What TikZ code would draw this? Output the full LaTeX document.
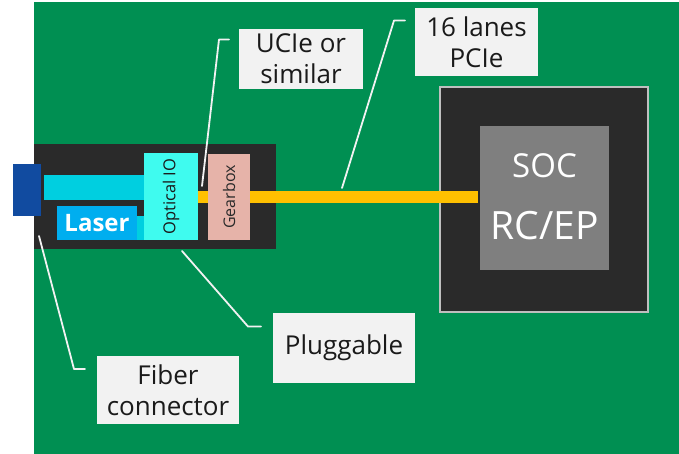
\documentclass[tikz,border=0pt]{standalone}
\usepackage{fontspec}
\setmainfont{Open Sans}
\definecolor{board}{HTML}{008F52}
\definecolor{dark}{HTML}{2A2A2A}
\definecolor{conn}{HTML}{114BA0}
\definecolor{guide}{HTML}{00CFE0}
\definecolor{laser}{HTML}{00AEEF}
\definecolor{optio}{HTML}{3FFBEF}
\definecolor{gear}{HTML}{E6B3A9}
\definecolor{lane}{HTML}{FFC000}
\definecolor{socin}{HTML}{7F7F7F}
\definecolor{lbl}{HTML}{F2F2F2}
\definecolor{txt}{HTML}{1A1A1A}
\tikzset{
  block/.style={draw=none,inner sep=0pt,outer sep=0pt,rectangle,anchor=north west},
  lab/.style={block,fill=lbl,text=txt,align=center,font=\fontsize{26}{31}\selectfont},
  lead/.style={draw=lbl,line width=1.8pt,line join=round,line cap=round},
}
\begin{document}
\begin{tikzpicture}[x=1pt,y=-1pt]
\useasboundingbox (0,0) rectangle (679,454);
\fill[white] (0,0) rectangle (679,454);
\fill[board] (34,2.5) rectangle (679,454);
% SOC
\node[block,fill=dark,draw=lightgray,line width=1.4pt,minimum width=208pt,minimum height=225pt] (socout) at (440,87) {};
\node[block,fill=socin,minimum width=129pt,minimum height=144pt] (socin) at (480,126) {};
\node[anchor=center,text=white,font=\fontsize{33}{38}\selectfont] (soctxt) at (544.5,166) {SOC};
\node[anchor=center,text=white,font=\fontsize{39}{44}\selectfont] (rcep) at (544.5,226) {RC/EP};
% pluggable
\node[block,fill=dark,minimum width=242pt,minimum height=105pt] (plug) at (34,144) {};
\node[block,fill=guide,minimum width=100pt,minimum height=25pt] (guide) at (44,175) {};
\node[block,fill=guide,minimum width=8pt,minimum height=24pt] (stub) at (136,216) {};
\node[block,fill=conn,minimum width=28pt,minimum height=52pt] (fiber) at (13,164) {};
\node[block,fill=laser,text=white,font=\fontsize{24}{30}\bfseries\selectfont,minimum width=80pt,minimum height=34pt,align=center] (laser) at (57,206) {Laser};
\node[block,fill=lane,minimum width=280pt,minimum height=12pt] (lanes) at (198,191) {};
\node[block,fill=optio,minimum width=54pt,minimum height=87pt] (optical) at (144,153) {};
\node[anchor=center,rotate=90,font=\fontsize{16.5}{20}\selectfont,text=txt] (optxt) at (optical.center) {Optical IO};
\node[block,fill=gear,minimum width=42pt,minimum height=86pt] (gearbox) at (208,154) {};
\node[anchor=center,rotate=90,font=\fontsize{16}{20}\selectfont,text=dark] (geartxt) at (gearbox.center) {Gearbox};
% labels
\node[lab,minimum width=124pt,minimum height=60pt] (ucie) at (239,29) {UCIe or\\similar};
\node[lab,minimum width=123pt,minimum height=68pt] (pcie) at (415,8) {16 lanes\\PCIe};
\node[lab,minimum width=142pt,minimum height=70pt] (pluggable) at (273,313) {Pluggable};
\node[lab,minimum width=142pt,minimum height=68pt] (fc) at (97,356) {Fiber\\connector};
% leaders
\coordinate (e1) at (202,186);
\coordinate (e2) at (342,188);
\coordinate (e3) at (182,251);
\coordinate (e4) at (39,236);
\coordinate (s1) at (229,39.5);
\coordinate (s2) at (405,20.5);
\coordinate (s3) at (261,326.5);
\coordinate (s4) at (85,369);
\draw[lead] (s1) -- (219,39.5) -- (e1);
\draw[lead] (s2) -- (394,20.5) -- (e2);
\draw[lead] (s3) -- (248,326.5) -- (e3);
\draw[lead] (s4) -- (74,369) -- (e4);
\end{tikzpicture}
\end{document}
